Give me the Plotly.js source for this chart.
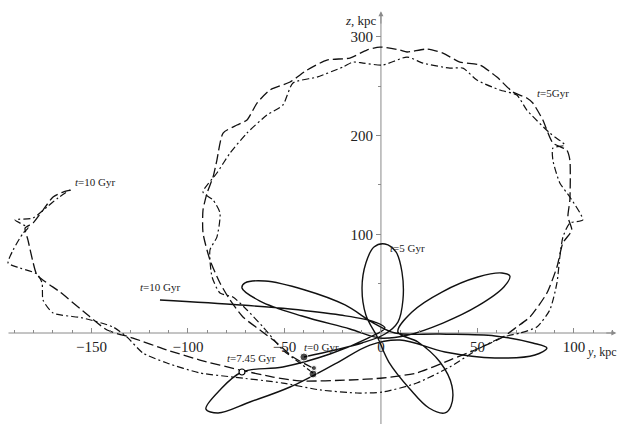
<!DOCTYPE html>
<html><head><meta charset="utf-8">
<script src="https://cdn.plot.ly/plotly-3.0.1.min.js"></script>
<style>html,body{margin:0;padding:0;background:#fff}#c{width:621px;height:424px}</style>
</head><body><div id="c"></div>
<script>
// Dashed orbit (y, z in kpc)
const dashY = [-35.2,-45.6,-53.9,-62.7,-71.5,-78.2,-83.4,-88.6,-92.2,-92.2,-90.1,-87.0,-85.0,-81.8,-74.6,-69.4,-64.2,-57.5,-47.1,-38.3,-28.0,-16.1,-7.3,-0.5,9.8,13.5,23.8,32.1,40.9,51.3,60.1,68.4,75.6,78.7,83.9,89.1,96.3,97.9,97.9,96.9,98.9,94.3,91.2,86.0,77.2,70.4,63.2,48.7,35.7,18.6,1.0,-16.1,-42.0,-55.9,-73.0,-93.8,-110.9,-128.5,-141.9,-154.4,-166.3,-178.2,-180.3,-182.9,-184.4,-180.3,-175.1,-169.9,-164.7,-160.1];
const dashZ = [-35.5,-24.3,-10.1,3.0,16.2,33.4,50.7,74.0,101.3,124.6,141.8,158.0,175.2,202.6,210.7,215.8,233.0,246.2,254.3,266.4,276.5,278.6,286.7,289.7,286.7,284.7,287.7,283.6,274.5,271.5,259.3,244.1,238.1,233.0,215.8,192.5,185.4,175.2,134.7,117.5,104.3,91.2,66.9,40.5,16.2,6.1,-4.1,-17.2,-27.4,-40.5,-45.6,-47.6,-48.6,-44.6,-37.5,-27.4,-17.2,-5.1,3.0,22.3,41.5,58.8,71.9,94.2,106.4,111.4,124.6,137.8,142.8,144.9];
// Dash-dot orbit
const ddY = [-35.2,-42.0,-50.8,-61.1,-69.4,-76.7,-83.4,-87.5,-88.6,-85.0,-83.4,-87.0,-92.2,-85.0,-78.2,-69.4,-59.1,-50.8,-45.6,-33.2,-19.7,-14.5,-9.3,1.0,13.5,21.8,35.7,42.5,49.7,61.6,70.4,75.6,87.5,95.3,89.1,89.1,92.7,97.9,104.6,97.9,94.3,92.7,91.2,87.5,80.8,72.0,63.2,51.3,35.7,18.6,1.0,-12.4,-31.6,-50.8,-76.7,-93.8,-110.9,-123.3,-131.6,-138.8,-154.4,-169.9,-175.1,-175.6,-178.2,-187.0,-193.2,-190.6,-185.4,-182.9,-189.6,-180.3,-173.1,-167.4,-161.1];
const ddZ = [-40.5,-30.4,-17.2,6.1,23.3,36.5,40.5,56.7,84.1,97.2,121.6,134.7,142.8,162.1,182.3,202.6,220.8,231.0,253.3,259.3,269.5,274.5,273.5,271.5,279.6,273.5,268.4,268.4,256.3,246.2,241.1,225.9,202.6,190.4,187.4,175.2,152.0,137.8,114.5,111.4,97.2,77.0,50.7,23.3,6.1,0,-4.1,-15.2,-34.4,-50.7,-59.8,-60.8,-57.7,-50.7,-44.6,-40.5,-30.4,-20.3,-4.1,6.1,15.2,20.3,33.4,50.7,59.8,65.8,70.9,84.1,101.3,106.4,114.5,116.5,127.6,136.8,144.9];
// Solid orbit
const solY = [-39.9,-23.8,-9.8,2.1,8.8,11.4,10.9,7.8,2.1,-3.6,-7.8,-9.8,-7.8,-1.6,4.1,15.0,24.9,33.2,36.3,36.8,30.6,19.2,8.8,16.1,31.6,50.2,62.7,66.8,63.7,50.2,32.1,14.0,-0.5,-16.1,-40.9,-62.7,-72.0,-70.4,-60.1,-39.4,-18.6,-4.7,7.3,30.6,59.1,78.7,86.0,79.8,59.1,33.2,9.8,-5.7,-23.8,-47.1,-67.9,-84.4,-90.7,-83.4,-72.0,-50.8,-26.4,-6.7,2.1,-3.1,-21.2,-47.1,-73.0,-114.5];
const solZ = [-24.3,-17.2,-10.1,-1.0,11.1,33.4,61.8,82.1,90.2,87.1,70.9,45.6,18.2,-5.1,-29.4,-56.7,-76.0,-81.0,-73.9,-53.7,-29.4,-9.1,1.0,21.3,41.5,56.7,60.8,57.7,46.6,27.4,10.1,-2.0,-5.1,4.1,17.2,32.4,45.6,50.7,52.7,43.6,28.4,11.1,0,-1.0,-3.0,-10.1,-15.2,-22.3,-25.3,-19.2,-7.1,-12.2,-31.4,-54.7,-69.9,-81.0,-77.0,-57.7,-39.5,-34.4,-21.3,-5.1,5.1,11.1,18.2,24.3,28.4,33.4];
// Start points (t = 0) and t = 7.45 Gyr marker
const startY = [-39.9,-35.2,-34.7];
const startZ = [-24.3,-41.5,-35.5];
const startSize = [8,8,5];
const markY = [-72.0];
const markZ = [-39.5];
// Axis ticks
const xTickVals = [-150,-100,-50,0,50,100];
const xTickText = ['\u2212150','\u2212100','\u221250','0','50','100'];
const zTickVals = [100,200,300];
const zTickText = ['100','200','300'];
// Labels
const labels = [
  {y:79.8, z:243, t:'<i>t</i>=5Gyr'},
  {y:3.6, z:86, t:'<i>t</i>=5 Gyr'},
  {y:-125.9, z:46.6, t:'<i>t</i>=10 Gyr'},
  {y:-159.5, z:153, t:'<i>t</i>=10 Gyr'},
  {y:-40.9, z:-14.2, t:'<i>t</i>=0 Gyr'},
  {y:-80.8, z:-25.3, t:'<i>t</i>=7.45 Gyr'}
];

const X0 = -197.4, X1 = 124.4, Z0 = -92.2, Z1 = 337.4;
const FONT = 'Liberation Serif, Times New Roman, serif';
const AX = '#8a8a8a';

const traces = [
  {x:[-193,120], y:[0,0], mode:'lines', line:{color:AX,width:1}, hoverinfo:'skip'},
  {x:[0,0], y:[-95,322], mode:'lines', line:{color:AX,width:1}, hoverinfo:'skip'},
  {x:dashY, y:dashZ, mode:'lines', line:{color:'#111',width:1.3,dash:'10px,4px',shape:'spline',smoothing:0.6}},
  {x:ddY, y:ddZ, mode:'lines', line:{color:'#111',width:1.2,dash:'7px,3px,2px,3px',shape:'spline',smoothing:0.6}},
  {x:solY, y:solZ, mode:'lines', line:{color:'#111',width:1.4,shape:'spline',smoothing:1.0}},
  {x:startY, y:startZ, mode:'markers', marker:{color:'#000',size:startSize}},
  {x:markY, y:markZ, mode:'markers', marker:{color:'#fff',size:6,line:{color:'#000',width:1.2}}}
];

const annotations = labels.map(l => ({x:l.y, y:l.z, text:l.t, showarrow:false, xanchor:'left', yanchor:'middle', font:{family:FONT,size:11,color:'#222'}}));
annotations.push({x:-1.2, y:317, text:'<i>z</i>, kpc', showarrow:false, xanchor:'right', yanchor:'middle', font:{family:FONT,size:13,color:'#222'}});
annotations.push({x:123.3, y:-19, text:'<i>y</i>, kpc', showarrow:false, xanchor:'right', yanchor:'middle', font:{family:FONT,size:12,color:'#222'}});
annotations.push({x:122, y:0, ax:116, ay:0, axref:'x', ayref:'y', text:'', showarrow:true, arrowhead:2, arrowsize:1, arrowwidth:1, arrowcolor:AX});
annotations.push({x:0, y:326, ax:0, ay:312, axref:'x', ayref:'y', text:'', showarrow:true, arrowhead:2, arrowsize:1, arrowwidth:1, arrowcolor:AX});

const layout = {
  width:621, height:424, margin:{l:0,r:0,t:0,b:0}, showlegend:false,
  paper_bgcolor:'#fff', plot_bgcolor:'#fff',
  xaxis:{range:[X0,X1], anchor:'free', position:(0-Z0)/(Z1-Z0), showgrid:false, zeroline:false, showline:false,
    tickvals:xTickVals, ticktext:xTickText, ticks:'inside', ticklen:5, tickcolor:AX, tickwidth:1, ticklabelstandoff:3,
    minor:{dtick:10, ticks:'inside', ticklen:3, tickcolor:AX, tickwidth:1},
    tickfont:{family:FONT,size:15,color:'#222'}},
  yaxis:{range:[Z0,Z1], anchor:'free', position:(0-X0)/(X1-X0), showgrid:false, zeroline:false, showline:false,
    tickvals:zTickVals, ticktext:zTickText, ticks:'outside', ticklen:5, tickcolor:AX, tickwidth:1,
    minor:{tickvals:[50,150,250], ticks:'outside', ticklen:3, tickcolor:AX, tickwidth:1},
    tickfont:{family:FONT,size:15,color:'#222'}},
  annotations:annotations
};
Plotly.newPlot('c', traces, layout, {displayModeBar:false, staticPlot:true});
</script></body></html>
